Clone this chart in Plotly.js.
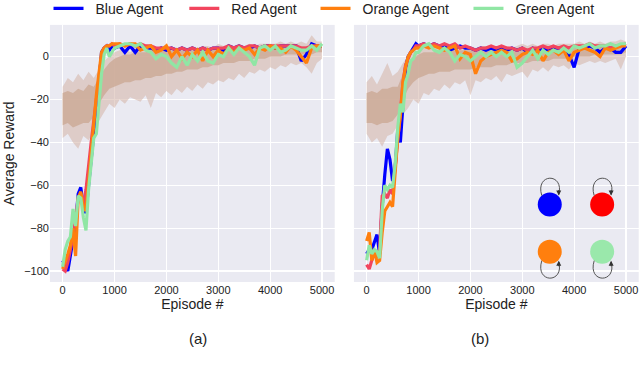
<!DOCTYPE html>
<html>
<head>
<meta charset="utf-8">
<script src="https://cdn.plot.ly/plotly-3.0.1.min.js"></script>
<style>
  html, body { margin: 0; padding: 0; background: #ffffff; }
  #graph-output { width: 640px; height: 377px; }
</style>
</head>
<body>
<div id="graph-output"></div>
<script>
// Episodios das curvas suavizadas (passo 50 ate 1000, depois 100)
const episodios = [0, 50, 100, 150, 200, 250, 300, 350, 400, 450, 500, 550, 600, 650, 700, 750, 800, 850, 900, 950, 1000,
    1100, 1200, 1300, 1400, 1500, 1600, 1700, 1800, 1900, 2000, 2100, 2200, 2300, 2400, 2500, 2600, 2700, 2800, 2900, 3000,
    3100, 3200, 3300, 3400, 3500, 3600, 3700, 3800, 3900, 4000, 4100, 4200, 4300, 4400, 4500, 4600, 4700, 4800, 4900, 5000];

// Episodios da faixa de recompensas brutas (passo 100)
const episodiosFaixa = [0, 100, 200, 300, 400, 500, 600, 700, 800, 900, 1000, 1100, 1200, 1300, 1400, 1500, 1600, 1700,
    1800, 1900, 2000, 2100, 2200, 2300, 2400, 2500, 2600, 2700, 2800, 2900, 3000, 3100, 3200, 3300, 3400, 3500, 3600,
    3700, 3800, 3900, 4000, 4100, 4200, 4300, 4400, 4500, 4600, 4700, 4800, 4900, 5000];

const agentes = ["Blue Agent", "Red Agent", "Orange Agent", "Green Agent"];
const coresAgentes = ["#0000ff", "#f2455e", "#ff7f0e", "#90e6a4"];

// (a) recompensa media suavizada
const azulA = [-95, -97, -100, -92, -86, -78, -64, -61, -70, -73, -60, -48, -38, -25, -12, 2, 4, 5, 3, 5, 4,
    5, 2, 5, 2, 5, 4, 4, 3, 4, 3, 4, 3, 4, 3, 4, 3, 4, 3, 4, 4, 3, 5, 4, 5, 4, 4, 5, 4, 5, 5, 4, 5, 5, 5, 5, -2, 1, 6, 5, 5];
const vermelhoA = [-99, -100, -96, -90, -84, -76, -66, -64, -70, -62, -50, -40, -30, -20, -10, 0, 4, 5, 5, 6, 5,
    6, 5, 6, 5, 6, 5, 5, 4, 4, 4, 4, 3, 4, 3, 4, 3, 4, 3, 4, 4, 4, 5, 4, 5, 4, 5, 5, 4, 5, 5, 5, 5, 5, 5, 5, 4, 4, 5, 5, 5];
const laranjaA = [-99, -96, -92, -88, -80, -93, -66, -63, -70, -72, -58, -45, -32, -18, -8, 2, 4, 5, 5, 6, 6,
    6, 5, 6, 6, 3, 4, 5, 2, 3, 5, 0, 3, -1, 2, 0, 3, -2, 3, 0, 3, 1, 4, 2, 4, 3, 4, 1, 4, 3, 5, 4, 4, 2, 5, 3, 0, -3, 4, 5, 5];
const verdeA = [-98, -90, -86, -84, -71, -79, -65, -66, -75, -81, -62, -50, -38, -36, -20, -8, 1, 4, 0, 2, 4,
    5, 6, 6, 5, 6, 3, 2, -1, 1, 0, -3, -5, 0, -4, 1, -2, 2, -2, -3, 1, 0, 4, 1, 4, 2, 0, -4, 4, 5, 3, 5, 2, 3, 5, 4, 3, 3, 5, 3, 6];

// (b) recompensa media suavizada
const azulB = [-92, -90, -90, -86, -83, -92, -70, -55, -43, -48, -58, -52, -34, -40, -22, -5, 0, 2, 4, 6, 5,
    6, 5, 6, 5, 5, 3, 4, 5, 4, 4, 3, 4, 3, 4, 3, 4, 3, 4, 3, 4, 2, 4, 3, 4, 3, 4, 4, 3, 1, -5, 4, 4, 5, 4, 2, 4, 4, 2, 2, 5];
const vermelhoB = [-97, -99, -95, -92, -93, -90, -65, -64, -66, -62, -64, -52, -38, -26, -12, -4, -1, 2, 3, 5, 5,
    6, 5, 6, 5, 6, 5, 6, 4, 5, 4, 3, 4, 4, 5, 4, 5, 4, 4, 3, 4, 3, 4, 4, 5, 4, 5, 4, 5, 4, 5, 5, 5, 6, 5, 5, 5, 4, 5, 5, 6];
const laranjaB = [-86, -82, -95, -90, -96, -95, -82, -72, -70, -68, -70, -55, -38, -28, -12, -5, 0, 2, 3, 4, 4,
    5, 4, 5, 4, 3, 4, 5, -1, 2, 1, -8, -2, 0, 1, 2, 3, 2, -2, -1, 1, 2, 1, 3, -2, 2, 3, 1, 3, -2, 2, 3, 4, 3, 2, 0, 4, 3, 4, 5, 5];
const verdeB = [-95, -88, -92, -90, -91, -94, -72, -60, -62, -60, -61, -50, -33, -22, -26, -12, -8, -2, -1, 2, 2,
    5, 6, 3, 2, 4, 2, -2, 1, 0, -2, 0, 2, 0, 2, 0, 2, 0, 2, -5, -3, 0, 3, -1, 3, 1, 3, 2, 4, 2, 5, 4, 5, 6, 4, 5, 5, 6, 5, 6, 6];

// Envelopes das recompensas brutas (faixa externa e nucleo denso)
const faixaAltaA = [-14, -10, -12, -8, -11, -7, -10, -6, -2, 0, 2, 3, 4, 2, 4, 5, 3, 5, 4, 5, 4, 5, 3, 5, 4, 5,
    4, 5, 5, 4, 6, 5, 6, 5, 6, 5, 6, 5, 6, 6, 6, 6, 7, 6, 7, 6, 7, 6, 10, 7, 7];
const faixaBaixaA = [-38, -36, -40, -43, -37, -39, -35, -30, -26, -22, -24, -20, -22, -19, -20, -21, -18, -24, -17, -19,
    -16, -18, -15, -17, -14, -16, -13, -15, -12, -13, -11, -12, -10, -11, -8, -10, -7, -8, -6, -7, -5, -6, -4, -5, -3,
    -4, -3, -5, -8, -3, -1];
const nucleoAltoA = [-17, -16, -17, -15, -16, -13, -14, -10, -6, -3, -1, 0, 1, 1, 2, 2, 2, 3, 3, 3, 3, 3, 3, 3, 3, 3,
    4, 4, 4, 4, 4, 4, 4, 4, 4, 4, 4, 4, 5, 5, 5, 5, 5, 5, 5, 5, 5, 5, 5, 5, 5];
const nucleoBaixoA = [-32, -31, -33, -32, -31, -31, -28, -22, -18, -15, -14, -13, -12, -12, -11, -11, -10, -10, -9, -9,
    -8, -8, -7, -7, -6, -6, -6, -5, -5, -4, -4, -3, -3, -3, -2, -2, -2, -1, -1, -1, 0, 0, 0, 1, 1, 1, 1, 1, 1, 2, 2];

const faixaAltaB = [-12, -9, -13, -8, -3, -9, -7, -3, 0, 2, 3, 4, 5, 4, 5, 5, 4, 5, 4, 5, 5, 4, 5, 5, 4, 5, 5, 5, 4,
    5, 6, 5, 6, 5, 6, 6, 5, 6, 6, 6, 6, 7, 6, 7, 6, 7, 6, 7, 7, 8, 7];
const faixaBaixaB = [-36, -40, -38, -42, -37, -36, -32, -27, -24, -20, -22, -17, -18, -15, -16, -13, -15, -12, -13, -11,
    -18, -11, -12, -10, -11, -9, -12, -8, -9, -8, -7, -10, -6, -7, -5, -7, -4, -5, -4, -6, -3, -4, -3, -2, -3, -2, -3,
    -2, -1, -6, 0];
const nucleoAltoB = [-17, -16, -17, -15, -15, -14, -14, -8, -3, -1, 1, 2, 2, 2, 3, 3, 3, 3, 3, 3, 3, 3, 3, 3, 3, 4,
    4, 4, 4, 4, 4, 4, 4, 4, 4, 4, 4, 5, 5, 5, 5, 5, 5, 5, 5, 5, 5, 5, 5, 5, 5];
const nucleoBaixoB = [-31, -31, -32, -31, -31, -30, -27, -20, -15, -12, -10, -9, -8, -8, -7, -7, -7, -6, -6, -6, -6,
    -5, -5, -5, -5, -4, -4, -4, -3, -3, -3, -3, -2, -2, -2, -2, -1, -1, -1, -1, 0, 0, 0, 0, 1, 1, 1, 1, 1, 1, 2];

// Diagrama dos agentes com auto-laco no painel (b)
const nosX = [3530, 4540, 3530, 4540];
const nosY = [-69, -69, -91, -91];
const nosCores = ["#0000ff", "#ff0000", "#ff7f0e", "#9ae8ab"];
const nosLaco = [1, 1, -1, -1]; // 1 = laco acima, -1 = laco abaixo

const fonte = "Liberation Sans, Arial, sans-serif";

function faixa(xs, alto, baixo, cor, eixoX) {
    return {
        x: xs.concat(xs.slice().reverse()),
        y: alto.concat(baixo.slice().reverse()),
        xaxis: eixoX, yaxis: "y",
        fill: "toself", fillcolor: cor,
        mode: "lines", line: { width: 0 },
        hoverinfo: "skip", showlegend: false
    };
}

var traces = [];
traces.push(faixa(episodiosFaixa, faixaAltaA, faixaBaixaA, "rgba(212,178,165,0.55)", "x"));
traces.push(faixa(episodiosFaixa, nucleoAltoA, nucleoBaixoA, "rgba(204,170,152,0.85)", "x"));
traces.push(faixa(episodiosFaixa, faixaAltaB, faixaBaixaB, "rgba(212,178,165,0.55)", "x2"));
traces.push(faixa(episodiosFaixa, nucleoAltoB, nucleoBaixoB, "rgba(204,170,152,0.85)", "x2"));

const seriesA = [azulA, vermelhoA, laranjaA, verdeA];
const seriesB = [azulB, vermelhoB, laranjaB, verdeB];
const nomesLegenda = ["legend", "legend2", "legend3", "legend4"];

for (let i = 0; i < agentes.length; i++) {
    traces.push({
        x: episodios, y: seriesA[i], xaxis: "x", yaxis: "y",
        mode: "lines", line: { color: coresAgentes[i], width: 3.2 },
        name: "\u2002" + agentes[i], legend: nomesLegenda[i], hoverinfo: "skip"
    });
}
for (let i = 0; i < agentes.length; i++) {
    traces.push({
        x: episodios, y: seriesB[i], xaxis: "x2", yaxis: "y",
        mode: "lines", line: { color: coresAgentes[i], width: 3.2 },
        name: agentes[i], showlegend: false, hoverinfo: "skip"
    });
}

// Circulos dos agentes
traces.push({
    x: nosX, y: nosY, xaxis: "x2", yaxis: "y",
    mode: "markers", marker: { size: 24, color: nosCores, line: { width: 0 } },
    showlegend: false, hoverinfo: "skip"
});

// Auto-lacos: deslocamentos em pixels convertidos para unidades dos eixos
const unX = 5490 / 285;
const unY = 119.9 / 257;
var formas = [];
var setas = [];
for (let i = 0; i < nosX.length; i++) {
    const d = nosLaco[i];
    const p = (dx, dy) => (nosX[i] + dx * unX) + "," + (nosY[i] + d * dy * unY);
    formas.push({
        type: "path", xref: "x2", yref: "y",
        path: "M" + p(-8, 9) + " C" + p(-15, 32) + " " + p(15, 32) + " " + p(9, 10),
        line: { color: "#555555", width: 1 }
    });
    setas.push({
        x: nosX[i] + 9 * unX, y: nosY[i] + d * 9 * unY, xref: "x2", yref: "y",
        ax: 0, ay: -d * 7, text: "", showarrow: true,
        arrowhead: 2, arrowsize: 1, arrowwidth: 1, arrowcolor: "#333333", standoff: 0
    });
}

const eixoX = {
    range: [-245, 5245], tickvals: [0, 1000, 2000, 3000, 4000, 5000],
    showgrid: true, gridcolor: "#ffffff", gridwidth: 1.2, zeroline: false,
    showline: false, ticks: "", tickfont: { size: 11, color: "#222222" },
    title: { text: "Episode #", font: { size: 14, color: "#222222" }, standoff: 4 }
};

function legendaEm(x) {
    return {
        x: x, y: 1.019, xanchor: "left", yanchor: "top", orientation: "h",
        bgcolor: "rgba(0,0,0,0)", font: { family: fonte, size: 14, color: "#222222" }
    };
}

var layout = {
    width: 640, height: 377,
    paper_bgcolor: "#ffffff", plot_bgcolor: "#eaeaf2",
    font: { family: fonte, color: "#222222" },
    margin: { l: 0, r: 0, t: 0, b: 0, autoexpand: false },
    xaxis: Object.assign({}, eixoX, { domain: [0.078, 0.523], anchor: "y" }),
    xaxis2: Object.assign({}, eixoX, { domain: [0.553, 0.998], anchor: "y" }),
    yaxis: {
        domain: [0.252, 0.934], range: [-105.1, 14.8], anchor: "x",
        tickvals: [-100, -80, -60, -40, -20, 0],
        showgrid: true, gridcolor: "#ffffff", gridwidth: 1.2, zeroline: false,
        showline: false, ticks: "", tickfont: { size: 11, color: "#222222" },
        title: { text: "Average Reward", font: { size: 14, color: "#222222" }, standoff: 6 }
    },
    showlegend: true,
    legend: legendaEm(0.0758),
    legend2: legendaEm(0.288),
    legend3: legendaEm(0.493),
    legend4: legendaEm(0.732),
    shapes: formas,
    annotations: setas.concat([
        { text: "(a)", xref: "paper", yref: "paper", x: 0.292, y: 0.103, yanchor: "middle", showarrow: false,
          font: { size: 15, color: "#222222" } },
        { text: "(b)", xref: "paper", yref: "paper", x: 0.767, y: 0.103, yanchor: "middle", showarrow: false,
          font: { size: 15, color: "#222222" } },
        { text: "Fig. 2:  Results for self-loop scenario:  (a) VDN,  (b) CA VDN with",
          xref: "paper", yref: "paper", x: 0, y: 0.01, xanchor: "left", yanchor: "top", showarrow: false,
          font: { family: "Liberation Serif, Times New Roman, serif", size: 22, color: "#000000" } }
    ])
};

Plotly.newPlot("graph-output", traces, layout, { staticPlot: true, displayModeBar: false });
</script>
</body>
</html>
